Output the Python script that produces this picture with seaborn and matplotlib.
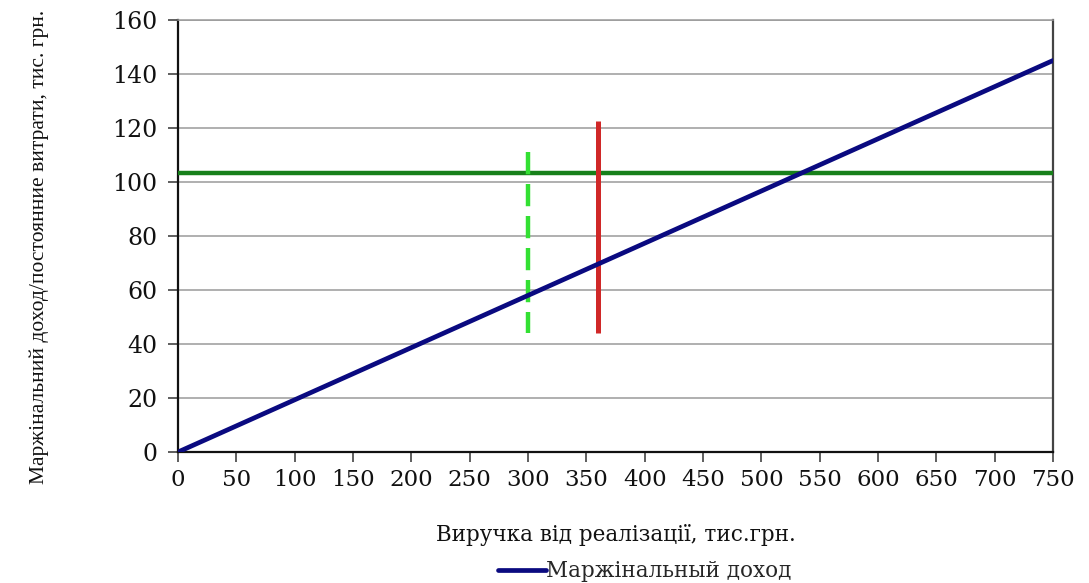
import matplotlib
matplotlib.use("Agg")
import matplotlib.pyplot as plt
import seaborn as sns
import pandas as pd

# Revenue (thousand UAH) and contribution margin along the straight line
revenue = [0, 750]
margin = [0, 145]
# Fixed costs level
fixed_costs = 103.5
# Vertical markers: planned revenue (dashed) and actual revenue (solid)
marker_x = [300, 360]
marker_low = [44, 44]
marker_high = [111, 122.5]

x_ticks = list(range(0, 751, 50))
y_ticks = list(range(0, 161, 20))

sns.set_theme(style="white")
plt.rcParams["font.family"] = ["DejaVu Serif"]

fig = plt.figure(figsize=(10.89, 5.83), dpi=100)
ax = fig.add_axes([0.1635, 0.2247, 0.8035, 0.741])

df = pd.DataFrame({"Виручка": revenue, "Маржінальний доход": margin})

for y in y_ticks[1:]:
    ax.axhline(y, color="#9a9a9a", lw=1.1, zorder=1)

ax.axhline(fixed_costs, color="#17801a", lw=3.2, zorder=3)
# dashed marker drawn top-down so the dash pattern starts at its upper end
ax.plot([marker_x[0], marker_x[0]], [marker_high[0], marker_low[0]],
        color="#33e033", lw=3.2, ls=(0, (5.0, 2.2)), zorder=3,
        solid_capstyle="butt", dash_capstyle="butt")
ax.vlines(marker_x[1], marker_low[1], marker_high[1], colors="#d02828",
          lw=3.6, zorder=3)
sns.lineplot(data=df, x="Виручка", y="Маржінальний доход", ax=ax,
             color="#0a0a80", lw=3.4, label="Маржінальный доход", zorder=4,
             legend=False)

ax.set_xlim(0, 750)
ax.set_ylim(0, 160)
ax.set_xticks(x_ticks)
ax.set_yticks(y_ticks)
ax.set_xticklabels([str(v) for v in x_ticks], fontsize=16.5, color="#111111")
ax.set_yticklabels([str(v) for v in y_ticks], fontsize=17, color="#111111")
ax.tick_params(axis="both", direction="out", length=7, width=1.1,
               color="#333333", bottom=True, left=True)
ax.tick_params(axis="x", pad=5)
ax.tick_params(axis="y", pad=8)

for side in ["left", "bottom"]:
    ax.spines[side].set_color("#111111")
    ax.spines[side].set_linewidth(1.6)
ax.spines["right"].set_color("#444444")
ax.spines["right"].set_linewidth(1.6)
ax.spines["top"].set_color("#9a9a9a")
ax.spines["top"].set_linewidth(1.1)

ax.set_xlabel("Виручка від реалізації, тис.грн.", fontsize=15.5,
              color="#111111", labelpad=24)
ax.set_ylabel("Маржінальний доход/постоянние витрати, тис. грн.",
              fontsize=15.5, color="#111111", family=["Liberation Serif"])
ax.yaxis.set_label_coords(-0.148, 0.475)

handles = ax.get_lines()[-1:]
fig.legend(handles, ["Маржінальный доход"], loc="center",
           bbox_to_anchor=(0.592, 0.02), frameon=False, fontsize=15.5,
           handlelength=2.2, handletextpad=0.0, borderpad=0.1)

fig.savefig("out.png", dpi=100)
